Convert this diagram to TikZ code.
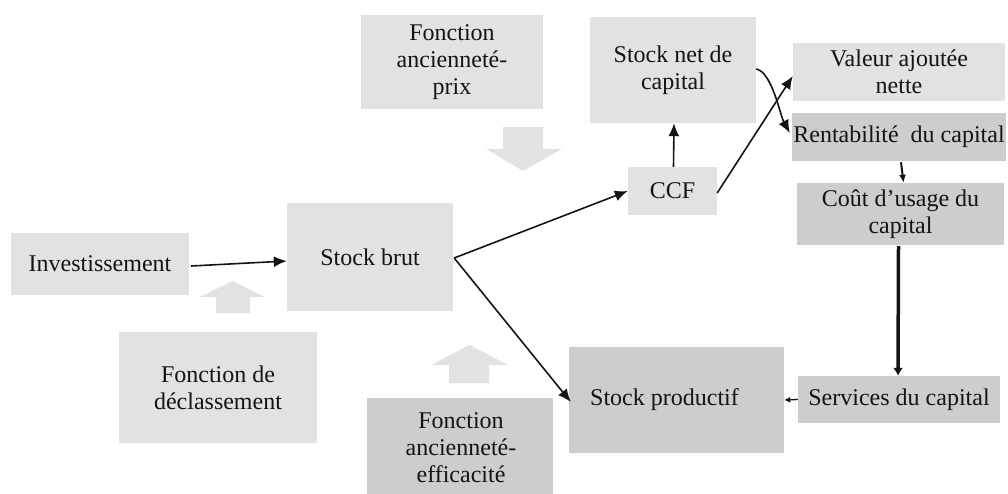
\documentclass[tikz,border=0pt]{standalone}
\usepackage{fontspec}
\setmainfont{Liberation Serif}
\usetikzlibrary{arrows.meta}
\definecolor{boxlight}{HTML}{E2E2E2}
\definecolor{boxdark}{HTML}{CDCDCD}
\definecolor{ink}{HTML}{141414}
\tikzset{
  txt/.style={text=ink, font=\fontsize{24}{27}\selectfont},
  box/.style={fill=#1, draw=none, inner sep=0pt, align=center, txt},
  link/.style={draw=ink, line width=1.6pt, -{Latex[length=13pt,width=11pt]}},
  blockarrow/.style={fill=boxlight, draw=none}
}
\begin{document}
\begin{tikzpicture}[x=1pt,y=-1pt]
\useasboundingbox (0,0) rectangle (1008,493);

% boxes (centre, size in px)
\node[box=boxlight, minimum width=178pt, minimum height=62pt] (inv) at (100,264) {Investissement};
\node[box=boxlight, minimum width=166pt, minimum height=108pt] (sb) at (370,257) {Stock brut};
\node[box=boxlight, minimum width=198pt, minimum height=111pt] (decl) at (218,387.5) {Fonction de\\d\'eclassement};
\node[box=boxlight, minimum width=182pt, minimum height=94pt] (prix) at (452,62) {Fonction\\anciennet\'e-\\prix};
\node[box=boxlight, minimum width=166pt, minimum height=106pt] (sn) at (673,70) {Stock net de\\capital};
\node[box=boxlight, minimum width=89pt, minimum height=48pt] (ccf) at (672.5,191) {CCF};
\node[box=boxlight, minimum width=212pt, minimum height=58pt] (va) at (899,72) {Valeur ajout\'ee\\nette};
\node[box=boxdark, minimum width=214pt, minimum height=48pt] (rt) at (899,137) {Rentabilit\'e\ \ du capital};
\node[box=boxdark, minimum width=207pt, minimum height=62pt] (ct) at (900.5,214) {Co\^ut d'usage du\\capital};
\node[box=boxdark, minimum width=202pt, minimum height=47pt] (sv) at (899,399.5) {Services du capital};
\node[box=boxdark, minimum width=215pt, minimum height=106pt] (sp) at (676.5,400) {};
\node[anchor=west, inner sep=0pt, txt] (sptext) at (590,400) {Stock productif};
\node[box=boxdark, minimum width=186pt, minimum height=100pt, anchor=north] (eff) at (460,398) {};
\node[anchor=north, inner sep=0pt, align=center, txt] (efftext) at (461,412) {Fonction\\anciennet\'e-\\efficacit\'e};

% wide block arrows
\fill[blockarrow] (216,313) -- (250,313) -- (250,297) -- (265,297) -- (232.5,281) -- (200,297) -- (216,297) -- cycle;
\fill[blockarrow] (503,127) -- (543,127) -- (543,149) -- (562,149) -- (523,171) -- (486,149) -- (503,149) -- cycle;
\fill[blockarrow] (449,383) -- (489,383) -- (489,365) -- (508,365) -- (469.5,345) -- (431,365) -- (449,365) -- cycle;

% connectors
\draw[link] ([xshift=2pt,yshift=-2pt]inv.east) -- ([yshift=-4pt]sb.west);
\draw[link] ([xshift=1pt,yshift=-1pt]sb.east) -- (ccf.west);
\draw[link] ([xshift=1pt,yshift=-1pt]sb.east) -- ([xshift=2pt,yshift=-2pt]sp.west);
\draw[link] ([xshift=1pt]ccf.north) -- ([xshift=1pt]sn.south);
\draw[link] ([yshift=-2pt]ccf.east) -- ([yshift=-4pt]va.west);
\draw[link] ([yshift=1pt]sn.east) .. controls (772,72) and (780,115) .. ([xshift=-2pt,yshift=4pt]rt.west);
\draw[draw=ink, line width=2pt, -{Latex[length=8pt,width=7pt]}] ([xshift=2pt,yshift=-1pt]rt.south) -- ([xshift=3pt]ct.north);
\draw[draw=ink, line width=3.5pt, -{Latex[length=8pt,width=10pt]}] ([xshift=-2pt,yshift=-1pt]ct.south) -- ([xshift=-1pt]sv.north);
\draw[draw=ink, line width=1.3pt, -{Latex[length=6pt,width=6pt]}] (sv.west) -- (sp.east);
\end{tikzpicture}
\end{document}
